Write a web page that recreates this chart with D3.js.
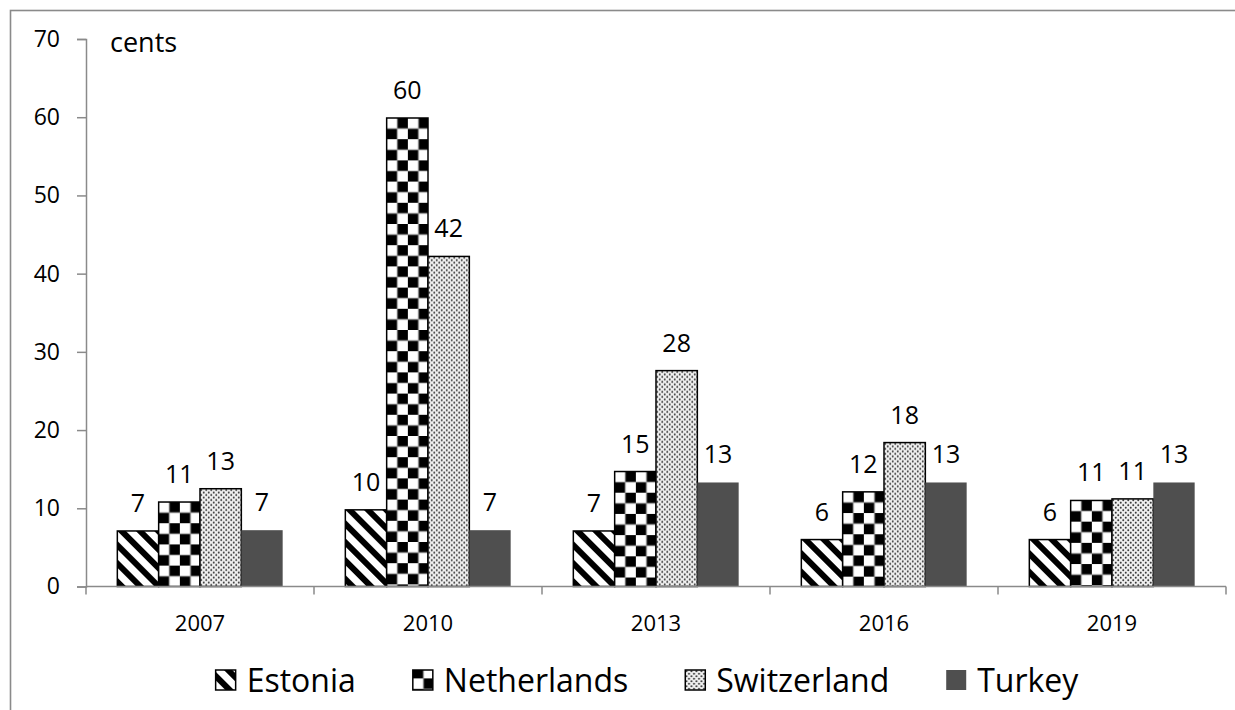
<!DOCTYPE html>
<html>
<head>
<meta charset="utf-8">
<script src="https://cdn.jsdelivr.net/npm/d3@7"></script>
<style>
  body { margin: 0; background: #fff; }
  svg text { font-family: "Open Sans", "Noto Sans", sans-serif; fill: #000; }
</style>
</head>
<body>
<svg id="chart" width="1235" height="710"></svg>
<script>
// Price per unit, in cents
const years = ["2007", "2010", "2013", "2016", "2019"];
const seriesNames = ["Estonia", "Netherlands", "Switzerland", "Turkey"];
const estonia     = [7.1, 9.8, 7.1, 6.0, 6.0];
const netherlands = [10.8, 59.9, 14.7, 12.1, 11.0];
const switzerland = [12.5, 42.2, 27.6, 18.4, 11.2];
const turkey      = [7.2, 7.2, 13.3, 13.3, 13.3];
const yTicks = [0, 10, 20, 30, 40, 50, 60, 70];
const unitLabel = "cents";

const seriesValues = [estonia, netherlands, switzerland, turkey];
const rows = years.map((yr, i) => ({
  year: yr,
  values: seriesNames.map((s, k) => ({ series: s, value: seriesValues[k][i] }))
}));

const svg = d3.select("#chart");
const W = 1235, H = 710;
const plot = { left: 86, right: 1226, top: 39, bottom: 586.5 };
const axisColor = "#8a8a8a";

// outer frame
svg.append("rect")
  .attr("x", 10.5).attr("y", 10.5)
  .attr("width", W + 40).attr("height", H + 40)
  .attr("fill", "none").attr("stroke", axisColor).attr("stroke-width", 1.6);

// fill patterns
const defs = svg.append("defs");

const stripes = defs.append("pattern")
  .attr("id", "fill-estonia").attr("patternUnits", "userSpaceOnUse")
  .attr("width", 13).attr("height", 13)
  .attr("patternTransform", "rotate(-45)");
stripes.append("rect").attr("width", 13).attr("height", 13).attr("fill", "#fff");
stripes.append("rect").attr("width", 6).attr("height", 13).attr("fill", "#000");

const sq = 10.6;
const checker = defs.append("pattern")
  .attr("id", "fill-netherlands").attr("patternUnits", "userSpaceOnUse")
  .attr("width", sq * 2).attr("height", sq * 2);
checker.append("rect").attr("width", sq * 2).attr("height", sq * 2).attr("fill", "#fff");
checker.selectAll("rect.cell")
  .data([[0, sq], [sq, 0]]).join("rect")
  .attr("class", "cell")
  .attr("x", d => d[0]).attr("y", d => d[1])
  .attr("width", sq).attr("height", sq).attr("fill", "#000");
checker.selectAll("path.seam")
  .data([`M0,${sq}H${sq * 2}M${sq},0V${sq * 2}`]).join("path")
  .attr("class", "seam")
  .attr("d", d => d).attr("stroke", "#9a9a9a").attr("stroke-width", 0.8);

const dots = defs.append("pattern")
  .attr("id", "fill-switzerland").attr("patternUnits", "userSpaceOnUse")
  .attr("width", 5).attr("height", 5);
dots.append("rect").attr("width", 5).attr("height", 5).attr("fill", "#f2f2f2");
dots.append("circle").attr("cx", 1.25).attr("cy", 1.25).attr("r", 1).attr("fill", "#333");
dots.append("circle").attr("cx", 3.75).attr("cy", 3.75).attr("r", 1).attr("fill", "#333");

const fills = {
  Estonia: "url(#fill-estonia)",
  Netherlands: "url(#fill-netherlands)",
  Switzerland: "url(#fill-switzerland)",
  Turkey: "#4f4f4f"
};
const strokes = { Estonia: "#000", Netherlands: "#000", Switzerland: "#000", Turkey: "none" };

// scales
const x0 = d3.scaleBand().domain(years).range([plot.left, plot.right]).padding(0);
const x1 = d3.scaleBand().domain(seriesNames).range([0, x0.bandwidth()])
  .paddingInner(0).paddingOuter(0.758);
const y = d3.scaleLinear().domain([0, 70]).range([plot.bottom, plot.top]);

// y axis
const yAxis = svg.append("g")
  .attr("transform", `translate(${plot.left},0)`)
  .call(d3.axisLeft(y).tickValues(yTicks).tickSize(9).tickPadding(17));
yAxis.select(".domain").attr("stroke", axisColor).attr("stroke-width", 1.5);
yAxis.selectAll(".tick line").attr("stroke", axisColor).attr("stroke-width", 1.5);
yAxis.selectAll(".tick text").attr("font-size", 23).attr("font-family", "Open Sans").attr("fill", "#000");

// unit label
svg.append("text").attr("x", 110).attr("y", 52).attr("font-size", 27).text(unitLabel);

// bars
const groups = svg.append("g").selectAll("g")
  .data(rows).join("g")
  .attr("transform", d => `translate(${x0(d.year)},0)`);

const bars = groups.selectAll("g.bar")
  .data(d => d.values).join("g")
  .attr("class", "bar")
  .attr("transform", d => `translate(${x1(d.series)},${y(d.value)})`);
bars.append("rect")
  .attr("width", x1.bandwidth())
  .attr("height", d => y(0) - y(d.value))
  .attr("fill", d => fills[d.series])
  .attr("stroke", d => strokes[d.series])
  .attr("stroke-width", 1.5);

// value labels
const fmt = d3.format(".0f");
groups.selectAll("text.val")
  .data(d => d.values).join("text")
  .attr("class", "val")
  .attr("x", d => x1(d.series) + x1.bandwidth() / 2)
  .attr("y", d => y(d.value) - 19)
  .attr("text-anchor", "middle")
  .attr("font-size", 25)
  .text(d => fmt(d.value));

// x axis: baseline, boundary ticks and centred year labels
const xAxis = svg.append("g").attr("transform", `translate(0,${plot.bottom})`);
xAxis.append("line")
  .attr("x1", plot.left).attr("x2", plot.right)
  .attr("stroke", axisColor).attr("stroke-width", 1.5);
const bounds = years.map(d => x0(d)).concat([x0(years[years.length - 1]) + x0.bandwidth()]);
xAxis.selectAll("line.tick")
  .data(bounds).join("line")
  .attr("class", "tick")
  .attr("x1", d => d).attr("x2", d => d)
  .attr("y1", 0).attr("y2", 8)
  .attr("stroke", axisColor).attr("stroke-width", 1.5);
xAxis.selectAll("text")
  .data(years).join("text")
  .attr("x", d => x0(d) + x0.bandwidth() / 2)
  .attr("y", 29).attr("dy", "0.71em")
  .attr("text-anchor", "middle")
  .attr("font-size", 22)
  .text(d => d);

// legend
const legend = svg.append("g");
const markSize = 20, markGap = 11, itemGap = 57, legendY = 680, legendCenter = 647;
const items = legend.selectAll("g").data(seriesNames).join("g");
items.append("rect")
  .attr("y", legendY - markSize / 2)
  .attr("width", markSize).attr("height", markSize)
  .attr("fill", d => fills[d])
  .attr("stroke", d => strokes[d] === "none" ? "none" : "#000")
  .attr("stroke-width", 1.5);
items.append("text")
  .attr("x", markSize + markGap)
  .attr("y", legendY + 12)
  .attr("font-size", 32)
  .text(d => d);
const widths = [];
items.select("text").each(function () { widths.push(this.getComputedTextLength()); });
const total = d3.sum(widths) + seriesNames.length * (markSize + markGap) + (seriesNames.length - 1) * itemGap;
let cursor = legendCenter - total / 2;
items.each(function (d, i) {
  d3.select(this).attr("transform", `translate(${cursor},0)`);
  cursor += markSize + markGap + widths[i] + itemGap;
});
</script>
</body>
</html>
